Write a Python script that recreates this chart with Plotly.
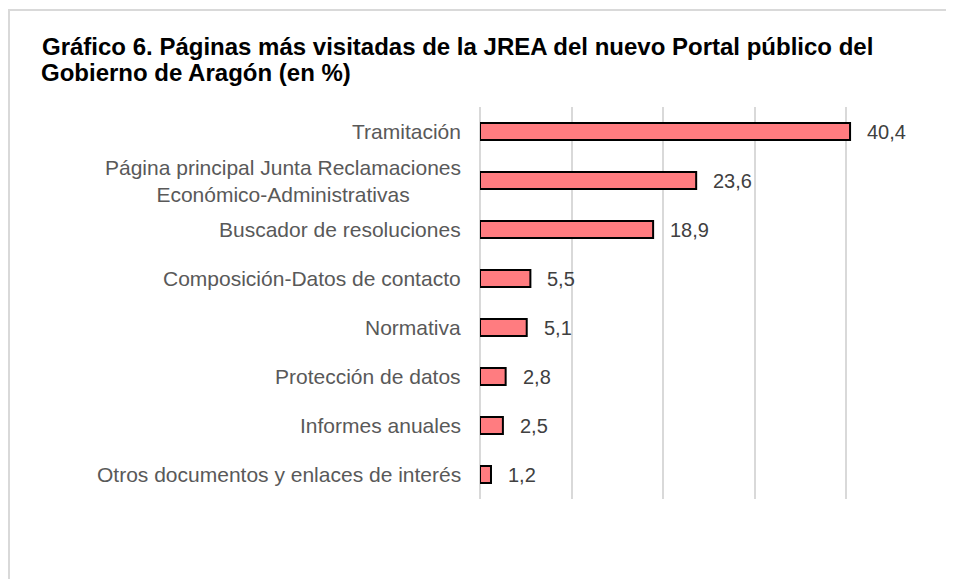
import plotly.graph_objects as go

categories = [
    "Tramitación",
    "Página principal Junta Reclamaciones<br>Económico-Administrativas",
    "Buscador de resoluciones",
    "Composición-Datos de contacto",
    "Normativa",
    "Protección de datos",
    "Informes anuales",
    "Otros documentos y enlaces de interés",
]
values = [40.4, 23.6, 18.9, 5.5, 5.1, 2.8, 2.5, 1.2]
title_line1 = "Gráfico 6. Páginas más visitadas de la JREA del nuevo Portal público del"
title_line2 = "Gobierno de Aragón (en %)"

W, H = 954, 579
OFF = 8  # page body margin in the browser
ml, mr = 480 - OFF, W - (938 - OFF)
mt, mb = 107 - OFF, H - (499 - OFF)
FONT = "Liberation Sans, Arial, sans-serif"
pw = W - ml - mr
ph = H - mt - mb

fig = go.Figure()
fig.add_trace(go.Bar(
    y=categories, x=values, orientation="h",
    width=0.35,
    marker=dict(color="#FF7C80", line=dict(color="#000000", width=2)),
    hoverinfo="skip",
))

annotations = []
for c in categories:
    annotations.append(dict(
        x=0, xref="paper", y=c, yref="y", text=c, showarrow=False,
        xanchor="right", yanchor="middle", align="center", xshift=-17,
        font=dict(family=FONT, size=21, color="#595959"),
    ))
for c, v in zip(categories, values):
    annotations.append(dict(
        x=v, xref="x", y=c, yref="y", text=f"{v:.1f}".replace(".", ","), showarrow=False,
        xanchor="left", yanchor="middle", xshift=15,
        font=dict(family=FONT, size=20, color="#404040"),
    ))
annotations.append(dict(
    x=((42 - OFF) - ml) / pw, xref="paper", y=((H - mb) - (73 - OFF)) / ph, yref="paper",
    text=f"<b>{title_line2}</b>", showarrow=False, xanchor="left", yanchor="middle",
    xshift=-3,
    font=dict(family=FONT, size=24, color="#000000"),
))

fig.add_shape(type="rect", xref="paper", yref="paper",
              x0=(1 - ml) / pw, x1=2, y0=-1, y1=(H - mb - 2) / ph,
              line=dict(color="#d9d9d9", width=2), fillcolor="rgba(0,0,0,0)", layer="below")

fig.update_layout(
    width=W, height=H,
    margin=dict(l=ml, r=mr, t=mt, b=mb),
    paper_bgcolor="white", plot_bgcolor="white",
    showlegend=False,
    title=dict(text=title_line1, x=(42 - OFF) / W, xanchor="left", xref="container",
               y=1 - (47 - OFF) / H, yanchor="middle", yref="container",
               font=dict(family=FONT, size=24, color="#000000", weight="bold")),
    xaxis=dict(range=[0, 50], dtick=10, showticklabels=False, showgrid=True,
               gridcolor="#d9d9d9", gridwidth=2, zeroline=True, zerolinecolor="#d9d9d9",
               zerolinewidth=2, showline=False, fixedrange=True),
    yaxis=dict(autorange="reversed", showticklabels=False, showgrid=False,
               zeroline=False, showline=False),
    annotations=annotations,
)

fig.write_html("out.html")
